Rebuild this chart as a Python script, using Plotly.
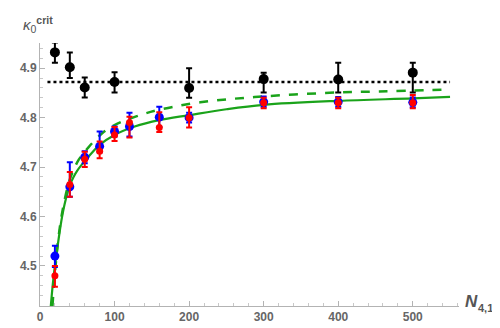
import plotly.graph_objects as go

# ---- data ----
N_black = [20, 40, 60, 100, 200, 300, 400, 500]
k_black = [4.932, 4.902, 4.861, 4.872, 4.860, 4.878, 4.877, 4.891]
k_black_up = [0.020, 0.030, 0.020, 0.020, 0.040, 0.013, 0.034, 0.020]
k_black_dn = [0.021, 0.022, 0.020, 0.021, 0.020, 0.027, 0.026, 0.040]

N_blue = [20, 40, 60, 80, 100, 120, 160, 200, 300, 400, 500]
k_blue = [4.520, 4.660, 4.720, 4.742, 4.772, 4.782, 4.801, 4.800, 4.832, 4.832, 4.831]
k_blue_up = [0.021, 0.050, 0.012, 0.030, 0.010, 0.028, 0.021, 0.010, 0.011, 0.010, 0.010]
k_blue_dn = [0.022, 0.020, 0.012, 0.012, 0.010, 0.020, 0.020, 0.010, 0.010, 0.010, 0.010]

N_red = [20, 40, 60, 80, 100, 120, 160, 200, 300, 400, 500]
k_red = [4.480, 4.665, 4.716, 4.732, 4.765, 4.790, 4.780, 4.800, 4.830, 4.830, 4.830]
k_red_up = [0.020, 0.025, 0.015, 0.020, 0.016, 0.012, 0.031, 0.021, 0.010, 0.010, 0.016]
k_red_dn = [0.022, 0.025, 0.016, 0.014, 0.012, 0.030, 0.009, 0.020, 0.011, 0.011, 0.011]

N_fit_solid = [14.5, 18, 22, 28.5, 33, 40, 45, 50, 60, 80, 100, 127, 160, 200, 250, 300, 400, 500, 550]
k_fit_solid = [4.419, 4.475, 4.522, 4.590, 4.625, 4.663, 4.680, 4.693, 4.712, 4.745, 4.765, 4.782,
               4.795, 4.805, 4.817, 4.826, 4.834, 4.839, 4.842]

N_fit_dashed = [16.7, 20, 25, 30, 40, 52, 65, 83, 100, 130, 160, 215, 300, 400, 455, 548]
k_fit_dashed = [4.419, 4.485, 4.560, 4.610, 4.675, 4.715, 4.740, 4.768, 4.785, 4.803, 4.816,
                4.831, 4.843, 4.851, 4.853, 4.857]

N_const = [10, 550]
k_const = [4.872, 4.872]

x_ticks = [0, 100, 200, 300, 400, 500]
y_ticks = [4.5, 4.6, 4.7, 4.8, 4.9]

GREEN = "#1aa31a"
FONT = "Liberation Sans, Arial, sans-serif"

fig = go.Figure()

fig.add_trace(go.Scatter(x=N_const, y=k_const, mode="lines",
                         line=dict(color="black", width=2.5, dash="dot"), hoverinfo="skip"))
fig.add_trace(go.Scatter(x=N_fit_dashed, y=k_fit_dashed, mode="lines", line_shape="spline",
                         line=dict(color=GREEN, width=2.5, dash="dash")))
fig.add_trace(go.Scatter(x=N_fit_solid, y=k_fit_solid, mode="lines", line_shape="spline",
                         line=dict(color=GREEN, width=2.2)))

fig.add_trace(go.Scatter(
    x=N_black, y=k_black, mode="markers",
    marker=dict(color="black", size=10),
    error_y=dict(type="data", symmetric=False, array=k_black_up, arrayminus=k_black_dn,
                 color="black", thickness=2, width=3)))
fig.add_trace(go.Scatter(
    x=N_blue, y=k_blue, mode="markers",
    marker=dict(color="#0000ff", size=9),
    error_y=dict(type="data", symmetric=False, array=k_blue_up, arrayminus=k_blue_dn,
                 color="#0000ff", thickness=2, width=3)))
fig.add_trace(go.Scatter(
    x=N_red, y=k_red, mode="markers",
    marker=dict(color="#ff0000", size=7),
    error_y=dict(type="data", symmetric=False, array=k_red_up, arrayminus=k_red_dn,
                 color="#ff0000", thickness=2, width=3)))

tickfont = dict(family=FONT, size=12, color="#666666")

PLOT_W = 500 - 23 - 49
PLOT_H = 328 - 35 - 24


def px_x(p):
    return (p - 23) / PLOT_W


def px_y(p):
    return (304 - p) / PLOT_H


fig.update_layout(
    width=500, height=328,
    margin=dict(l=23, r=49, t=35, b=24),
    paper_bgcolor="white", plot_bgcolor="white",
    showlegend=False,
    xaxis=dict(range=[0, 562], tickvals=x_ticks, ticktext=[f"<b>{v}</b>" for v in x_ticks],
               showgrid=False, zeroline=False, showline=True, linecolor="#b3b3b3", linewidth=1,
               ticks="inside", ticklen=5, tickcolor="#b3b3b3", tickfont=tickfont,
               minor=dict(dtick=20, ticks="inside", ticklen=3, tickcolor="#c8c8c8")),
    yaxis=dict(range=[4.419, 4.951], tickvals=y_ticks, ticktext=[f"<b>{v}</b>" for v in y_ticks],
               showgrid=False, zeroline=False, showline=True, linecolor="#b3b3b3", linewidth=1,
               ticks="inside", ticklen=5, tickcolor="#b3b3b3", tickfont=tickfont,
               minor=dict(dtick=0.02, ticks="inside", ticklen=3, tickcolor="#c8c8c8")),
    annotations=[
        dict(text="<i>κ</i><sub>0</sub><sup><b>crit</b></sup>",
             x=px_x(4), y=px_y(3), xref="paper", yref="paper",
             xanchor="left", yanchor="top", showarrow=False,
             font=dict(family=FONT, size=15, color="#555555")),
        dict(text="<b><i>N</i></b>",
             x=px_x(455), y=px_y(299), xref="paper", yref="paper",
             xanchor="left", yanchor="middle", showarrow=False,
             font=dict(family=FONT, size=17, color="#555555")),
        dict(text="<b>4,1</b>",
             x=px_x(468), y=px_y(306), xref="paper", yref="paper",
             xanchor="left", yanchor="middle", showarrow=False,
             font=dict(family=FONT, size=11, color="#555555")),
    ],
)

fig.write_html("out.html")
